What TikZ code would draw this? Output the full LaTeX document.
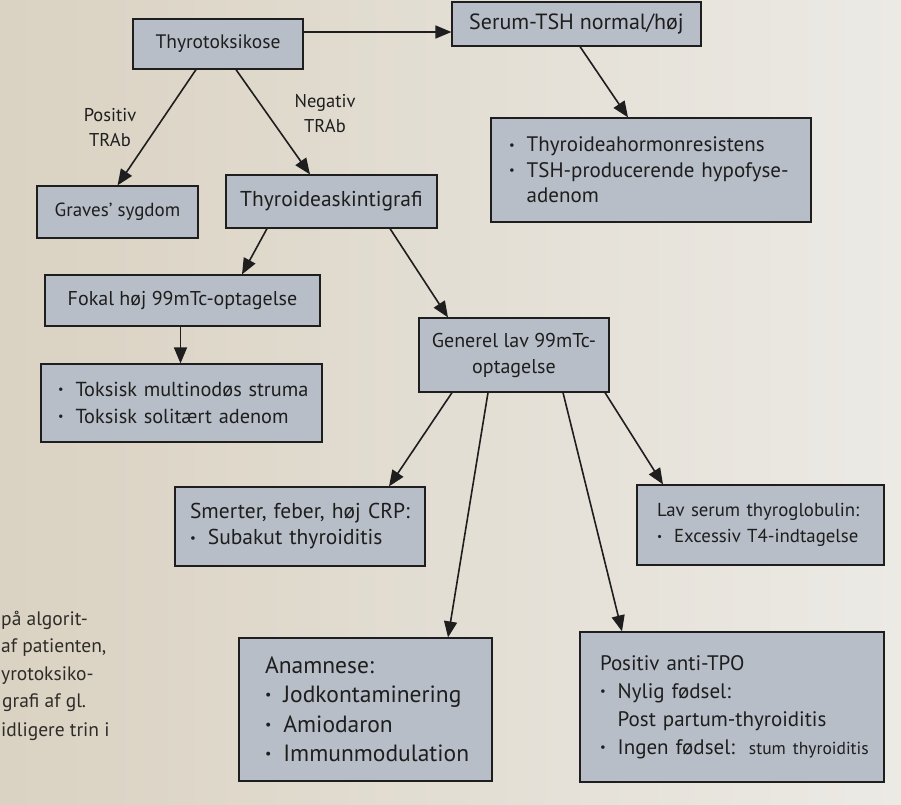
\documentclass[tikz,border=0pt]{standalone}
\usepackage{fontspec}
\setmainfont{PT Sans}
\usetikzlibrary{arrows.meta,calc}
\definecolor{pagebgL}{HTML}{DAD2C2}
\definecolor{pagebgR}{HTML}{ECEAE5}
\definecolor{boxfill}{HTML}{B7BEC7}
\definecolor{ink}{HTML}{1E1E1E}
\definecolor{bodytext}{HTML}{2E2C29}
\newcommand\mybul{\raisebox{0.13em}{\scalebox{0.6}{\textbullet}}\hspace{12pt}}
\newcommand\myind{\phantom{\scalebox{0.6}{\textbullet}}\hspace{12pt}}
\newcommand\fs[2]{\fontsize{#1}{#2}\selectfont}
\begin{document}
\begin{tikzpicture}[x=1pt,y=-1pt,
  box/.style={draw=ink, line width=1.2pt, fill=boxfill, inner sep=0pt, text=ink,
    font=\fs{20.5}{26}},
  arr/.style={draw=ink, line width=1.6pt, -{Triangle[length=16pt,width=13pt]}},
  lbl/.style={text=ink, font=\fs{18.5}{25}, align=center, inner sep=0pt},
  body/.style={text=bodytext, font=\fs{19.5}{24}, anchor=west, inner sep=0pt}]
\fill[left color=pagebgL, right color=pagebgR] (0,0) rectangle (901,804);
\useasboundingbox (0,0) rectangle (901,804);

% boxes
\node[box, minimum width=170pt, minimum height=50pt, font=\fs{19.5}{24}] (thy) at (218,44) {Thyrotoksikose};
\node[box, minimum width=249pt, minimum height=44pt, font=\fs{22}{26}] (tsh) at (576.5,24) {Serum-TSH normal/høj};
\node[box, minimum width=320pt, minimum height=104pt, text width=284pt, align=left, font=\fs{21}{25.5}] (res) at (651,170)
  {\mbox{\mybul Thyroideahormonresistens}\\ \mbox{\mybul TSH-producerende hypofyse-}\\ \myind adenom};
\node[box, minimum width=161pt, minimum height=52pt, font=\fs{19}{24}] (grav) at (117.5,212) {Graves’ sygdom};
\node[box, minimum width=211pt, minimum height=53pt, font=\fs{21.5}{26}] (sk) at (331.5,201.5) {Thyroideaskintigrafi};
\node[box, minimum width=275pt, minimum height=51pt, font=\fs{20}{26}] (fok) at (182.5,300.5) {Fokal høj 99mTc-optagelse};
\node[box, minimum width=281pt, minimum height=78pt, text width=247pt, align=left, font=\fs{20.3}{27}] (tox) at (181.5,403)
  {\mbox{\mybul Toksisk multinodøs struma}\\ \mbox{\mybul Toksisk solitært adenom}};
\node[box, minimum width=190pt, minimum height=74pt, align=center, font=\fs{20}{26}] (gen) at (514,355)
  {Generel lav 99mTc-\\optagelse};
\node[box, minimum width=250pt, minimum height=79pt, text width=220pt, align=left, font=\fs{21.5}{26}] (sme) at (300,526.5)
  {\mbox{Smerter, feber, høj CRP:}\\ \mbox{\mybul Subakut thyroiditis}};
\node[box, minimum width=247pt, minimum height=80pt, text width=207pt, align=left, font=\fs{18.8}{26}] (lav) at (760.5,525)
  {\mbox{Lav serum thyroglobulin:}\\ \mbox{\mybul Excessiv T4-indtagelse}};
\node[box, minimum width=253pt, minimum height=143pt, text width=201pt, align=left,
  font=\fs{23.5}{29.5}] (ana) at (365.5,709.5)
  {Anamnese:\\ \mbox{\mybul Jodkontaminering}\\ \mbox{\mybul Amiodaron}\\ \mbox{\mybul Immunmodulation}};
\node[box, minimum width=304pt, minimum height=150pt, text width=264pt, align=left,
  font=\fs{21}{28}] (tpo) at (732,707)
  {Positiv anti-TPO\\ \mbox{\mybul Nylig fødsel:}\\ \mbox{\myind Post partum-thyroiditis}\\
   \mbox{\mybul Ingen fødsel:\hspace{14pt}{\fs{17.5}{28}stum thyroiditis}}};

% edge labels
\node[lbl] (lpos) at (110,128) {Positiv\\TRAb};
\node[lbl] (lneg) at (325,114) {Negativ\\TRAb};

% connectors
\draw[arr] ([yshift=12pt]thy.east) -- ([yshift=-8pt]tsh.west);
\draw[arr] ([xshift=-22pt]thy.south) -- (grav.north);
\draw[arr] ([xshift=18pt]thy.south) -- ([xshift=-21.5pt]sk.north);
\draw[arr] ([xshift=3.5pt]tsh.south) -- ([xshift=-23pt]res.north);
\draw[arr] ([xshift=-64.5pt]sk.south) -- ([xshift=59.5pt]fok.north);
\draw[arr] ([xshift=58.5pt]sk.south) -- ([xshift=-66pt]gen.north);
\draw[arr] ([xshift=-2pt]fok.south) -- ([xshift=-2pt]fok.south |- tox.north);
\draw[arr] ([xshift=-62pt]gen.south) -- ([xshift=89pt]sme.north);
\draw[arr] ([xshift=-26pt]gen.south) -- ([xshift=82.5pt]ana.north);
\draw[arr] ([xshift=49pt]gen.south) -- ([xshift=-110pt]tpo.north);
\draw[arr] ([xshift=91pt]gen.south) -- ([xshift=-97.5pt]lav.north);

% cut-off body text at the left edge of the page
\node[body] (b1) at (1,620) {på algorit-};
\node[body] (b2) at (1,648) {af patienten,};
\node[body] (b3) at (1,676) {yrotoksiko-};
\node[body] (b4) at (2,703) {grafi af gl.};
\node[body] (b5) at (1,732) {idligere trin i};
\end{tikzpicture}
\end{document}
